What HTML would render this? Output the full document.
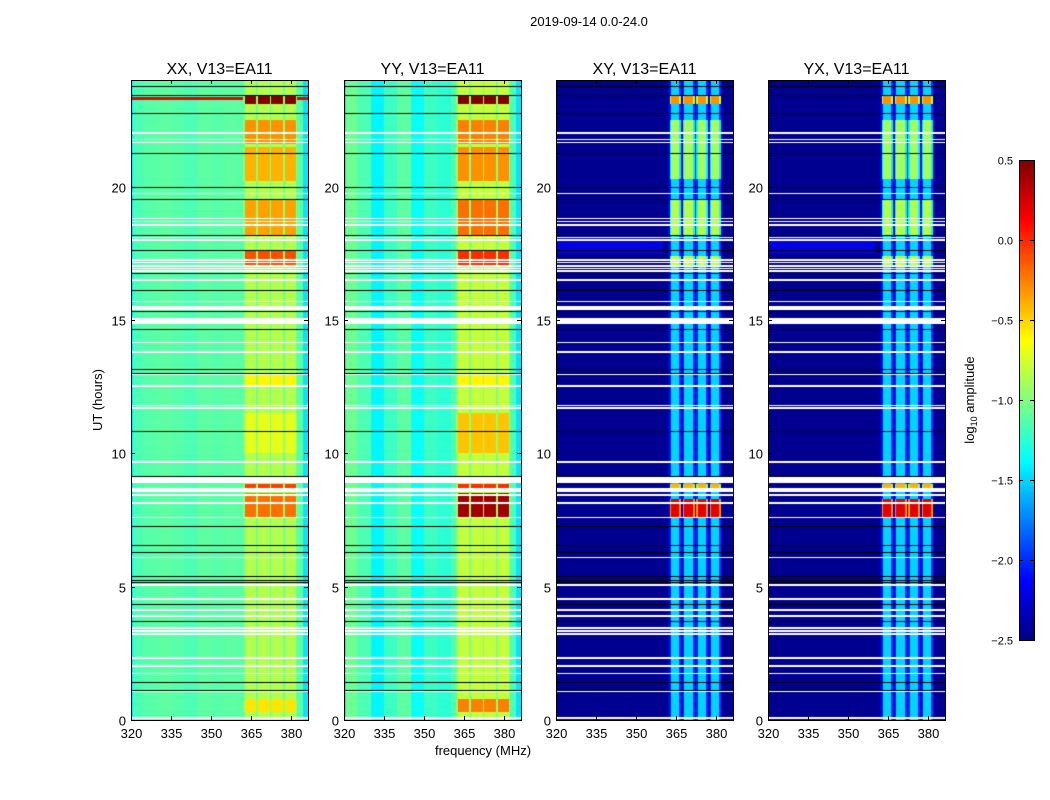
<!DOCTYPE html>
<html><head><meta charset="utf-8"><style>
body{margin:0;background:#fff;width:1050px;height:800px;overflow:hidden;position:relative;font-family:"Liberation Sans","DejaVu Sans",sans-serif}
canvas{position:absolute}
svg{position:absolute;left:0;top:0}
text{font-family:"Liberation Sans","DejaVu Sans",sans-serif}
</style></head><body>
<div id="heat"></div>
<svg id="ov" width="1050" height="800"></svg>
<script>
// ---- data ----
const panelTitles=['XX, V13=EA11','YY, V13=EA11','XY, V13=EA11','YX, V13=EA11'];
const panelKinds=['par','par','cross','cross'];
const xTicks=[320,335,350,365,380];
const yTicks=[0,5,10,15,20];
const cbTicks=[0.5,0.0,-0.5,-1.0,-1.5,-2.0,-2.5];
const flagged=[[21.98,22.04],[21.74,21.8],[21.63,21.69],[19.72,19.78],[18.78,18.84],[18.67,18.73],[18.54,18.6],[18.07,18.13],[17.97,18.03],[17.57,17.63],[17.22,17.28],[17.12,17.18],[16.99,17.05],[16.9,16.96],[16.8,16.86],[16.46,16.52],[15.67,15.73],[15.38,15.52],[14.85,15.07],[14.13,14.19],[13.77,13.83],[12.94,13.0],[12.49,12.55],[11.77,11.83],[11.67,11.73],[9.64,9.7],[8.9,9.1],[8.63,8.69],[8.55,8.61],[8.4,8.46],[8.1,8.16],[7.57,7.63],[6.07,6.13],[5.03,5.09],[4.51,4.57],[4.09,4.15],[3.87,3.93],[3.42,3.48],[3.31,3.37],[3.19,3.25],[2.3,2.36],[2.0,2.06],[1.72,1.78],[1.05,1.11],[0.05,0.11]];
const blackLines=[23.77,23.45,22.78,21.25,20.0,19.52,18.17,17.62,16.77,16.12,15.34,14.65,13.16,13.0,10.84,9.15,7.27,6.56,6.3,5.4,5.25,5.17,4.35,3.7,1.43,1.12];
const xxBursts=[[23.1,23.4,0.5],[21.6,22.5,-0.3],[20.2,21.5,-0.4],[18.2,19.5,-0.35],[17.0,17.6,-0.1],[12.5,13.0,-0.6],[10.0,11.5,-0.7],[8.6,8.85,-0.05],[7.6,8.5,-0.2],[0.3,0.8,-0.55]];
const yyBursts=[[23.1,23.4,0.5],[21.6,22.5,-0.25],[20.2,21.5,-0.3],[18.2,19.5,-0.2],[17.0,17.6,0.0],[12.5,13.0,-0.6],[10.0,11.5,-0.45],[8.6,8.85,0.0],[7.6,8.5,0.4],[0.3,0.8,-0.25]];
const crossBursts=[[23.1,23.4,-0.3],[20.3,22.5,-0.9],[18.2,19.5,-0.85],[17.0,17.4,-0.8],[7.6,8.3,0.2],[8.6,8.85,-0.4]];
const xxBg=[-1.15,-1.12,-1.1,-1.12,-1.15,-1.1,-1.12,-1.1,-1.12,-1.15,-1.1,-1.05,-1.12,-1.3]; // per 5 MHz from 320
const yyBg=[-1.05,-1.15,-1.4,-1.2,-1.1,-1.35,-1.2,-1.25,-1.15,-1.15,-1.1,-1.05,-1.15,-1.35];
// ---- geometry ----
const PX=[131,344,556,768],PY=80,PW=177,PH=640,F0=320,F1=386.4,T0=0,T1=24;
const fx=(f,i)=>PX[i]+(f-F0)/(F1-F0)*PW;
const ty=t=>PY+PH-(t-T0)/(T1-T0)*PH;
function jet(v){let x=(v+2.5)/3;x=Math.max(0,Math.min(1,x));
 const c=y=>Math.max(0,Math.min(1,y));
 return [c(1.5-Math.abs(4*x-3)),c(1.5-Math.abs(4*x-2)),c(1.5-Math.abs(4*x-1))].map(q=>Math.round(q*255));}
function val(t,f,i){
 for(const r of flagged) if(t>=r[0]&&t<=r[1]) return null;
 const par=panelKinds[i]==='par';
 const bg=i===0?xxBg:yyBg;
 let base=par?bg[Math.min(bg.length-1,Math.floor((f-F0)/5))]:-2.45;
 if(par&&(f<320.8||f>384.5)) base=-1.45;
 if(!par&&t>17.5&&t<18.1&&f<360) base=-2.2;
 if(i===0&&t>23.25&&t<23.35) base=0.2;
 if(f>=362&&f<=382.3){
  const bursts=par?(i===0?xxBursts:yyBursts):crossBursts;
  let lvl=par?(i===0?-0.85:-0.8):-1.5;
  for(const b of bursts) if(t>=b[0]&&t<=b[1]) lvl=b[2];
  const s=(f-362)%5;
  if(s<0.6) return par?Math.min(lvl,-0.75)-0.2:-2.2;
  if(!par&&(s<1.2||s>4.3)) return lvl-0.5;
  return lvl;
 }
 return base;
}
const heat=document.getElementById('heat');
for(let i=0;i<4;i++){
 const cv=document.createElement('canvas');
 
 
 cv.width=PW;cv.height=PH;cv.style.left=PX[i]+'px';cv.style.top=PY+'px';
 const ctx=cv.getContext('2d');const im=ctx.createImageData(PW,PH);
 for(let y=0;y<PH;y++){const t=T1-(y+0.5)/PH*(T1-T0);
  for(let x=0;x<PW;x++){const f=F0+(x+0.5)/PW*(F1-F0);const v=val(t,f,i);
   const o=(y*PW+x)*4;let c=v===null?[255,255,255]:jet(v);
   im.data[o]=c[0];im.data[o+1]=c[1];im.data[o+2]=c[2];im.data[o+3]=255;}}
 ctx.putImageData(im,0,0);
 ctx.fillStyle='#000';
 for(const b of blackLines){ctx.fillRect(0,Math.round(PH-(b-T0)/(T1-T0)*PH),PW,1);}
 heat.appendChild(cv);
}
// colorbar
const cb=document.createElement('canvas');


cb.width=15;cb.height=480;cb.style.left='1019px';cb.style.top='160px';
{const c=cb.getContext('2d');for(let y=0;y<480;y++){const col=jet(0.5-y/480*3);c.fillStyle=`rgb(${col})`;c.fillRect(0,y,15,1);}}
heat.appendChild(cb);
// overlay
const ov=document.getElementById('ov');const NS='http://www.w3.org/2000/svg';
function el(tag,attrs,txt){const e=document.createElementNS(NS,tag);for(const k in attrs)e.setAttribute(k,attrs[k]);if(txt!==undefined)e.textContent=txt;ov.appendChild(e);return e;}
const st=el('text',{x:589,y:26,'text-anchor':'middle','font-size':13},'2019-09-14 0.0-24.0');


for(let i=0;i<4;i++){
 const fr=el('rect',{x:PX[i]+0.5,y:PY+0.5,width:PW,height:PH,fill:'none',stroke:'#000','stroke-width':1});
 
 
 const tt=el('text',{x:PX[i]+PW/2,y:74,'text-anchor':'middle','font-size':16},panelTitles[i]);
 
 
 for(const f of xTicks){const x=Math.round(fx(f,i))+0.5;
  el('line',{x1:x,x2:x,y1:PY+PH,y2:PY+PH-4,stroke:'#000'});el('line',{x1:x,x2:x,y1:PY,y2:PY+4,stroke:'#000'});
  const l=el('text',{x:x,y:738,'text-anchor':'middle','font-size':13},String(f));
  
  }
 for(const t of yTicks){const y=Math.round(ty(t))+0.5;
  el('line',{x1:PX[i],x2:PX[i]+4,y1:y,y2:y,stroke:'#000'});el('line',{x1:PX[i]+PW,x2:PX[i]+PW-4,y1:y,y2:y,stroke:'#000'});
  const l=el('text',{x:PX[i]-5,y:y+5,'text-anchor':'end','font-size':13},String(t));
  
  }
}
const yl=el('text',{x:102,y:400,'text-anchor':'middle','font-size':13,transform:'rotate(-90 102 400)'},'UT (hours)');


const xl=el('text',{x:483,y:755,'text-anchor':'middle','font-size':13},'frequency (MHz)');


const cf=el('rect',{x:1019.5,y:160.5,width:15,height:480,fill:'none',stroke:'#000'});


for(const v of cbTicks){const y=Math.round(160+(0.5-v)/3*480)+0.5;
 el('line',{x1:1019,x2:1023,y1:y,y2:y,stroke:'#000'});el('line',{x1:1030,x2:1034,y1:y,y2:y,stroke:'#000'});
 const l=el('text',{x:1013,y:y+4,'text-anchor':'end','font-size':11},(v<0?'\u2212':'')+Math.abs(v).toFixed(1));
 
 }
const cl=el('text',{x:974,y:400,'text-anchor':'middle','font-size':13,transform:'rotate(-90 974 400)'});


cl.innerHTML='log<tspan font-size="9" dy="3">10</tspan><tspan dy="-3"> amplitude</tspan>';
</script>
</body></html>
